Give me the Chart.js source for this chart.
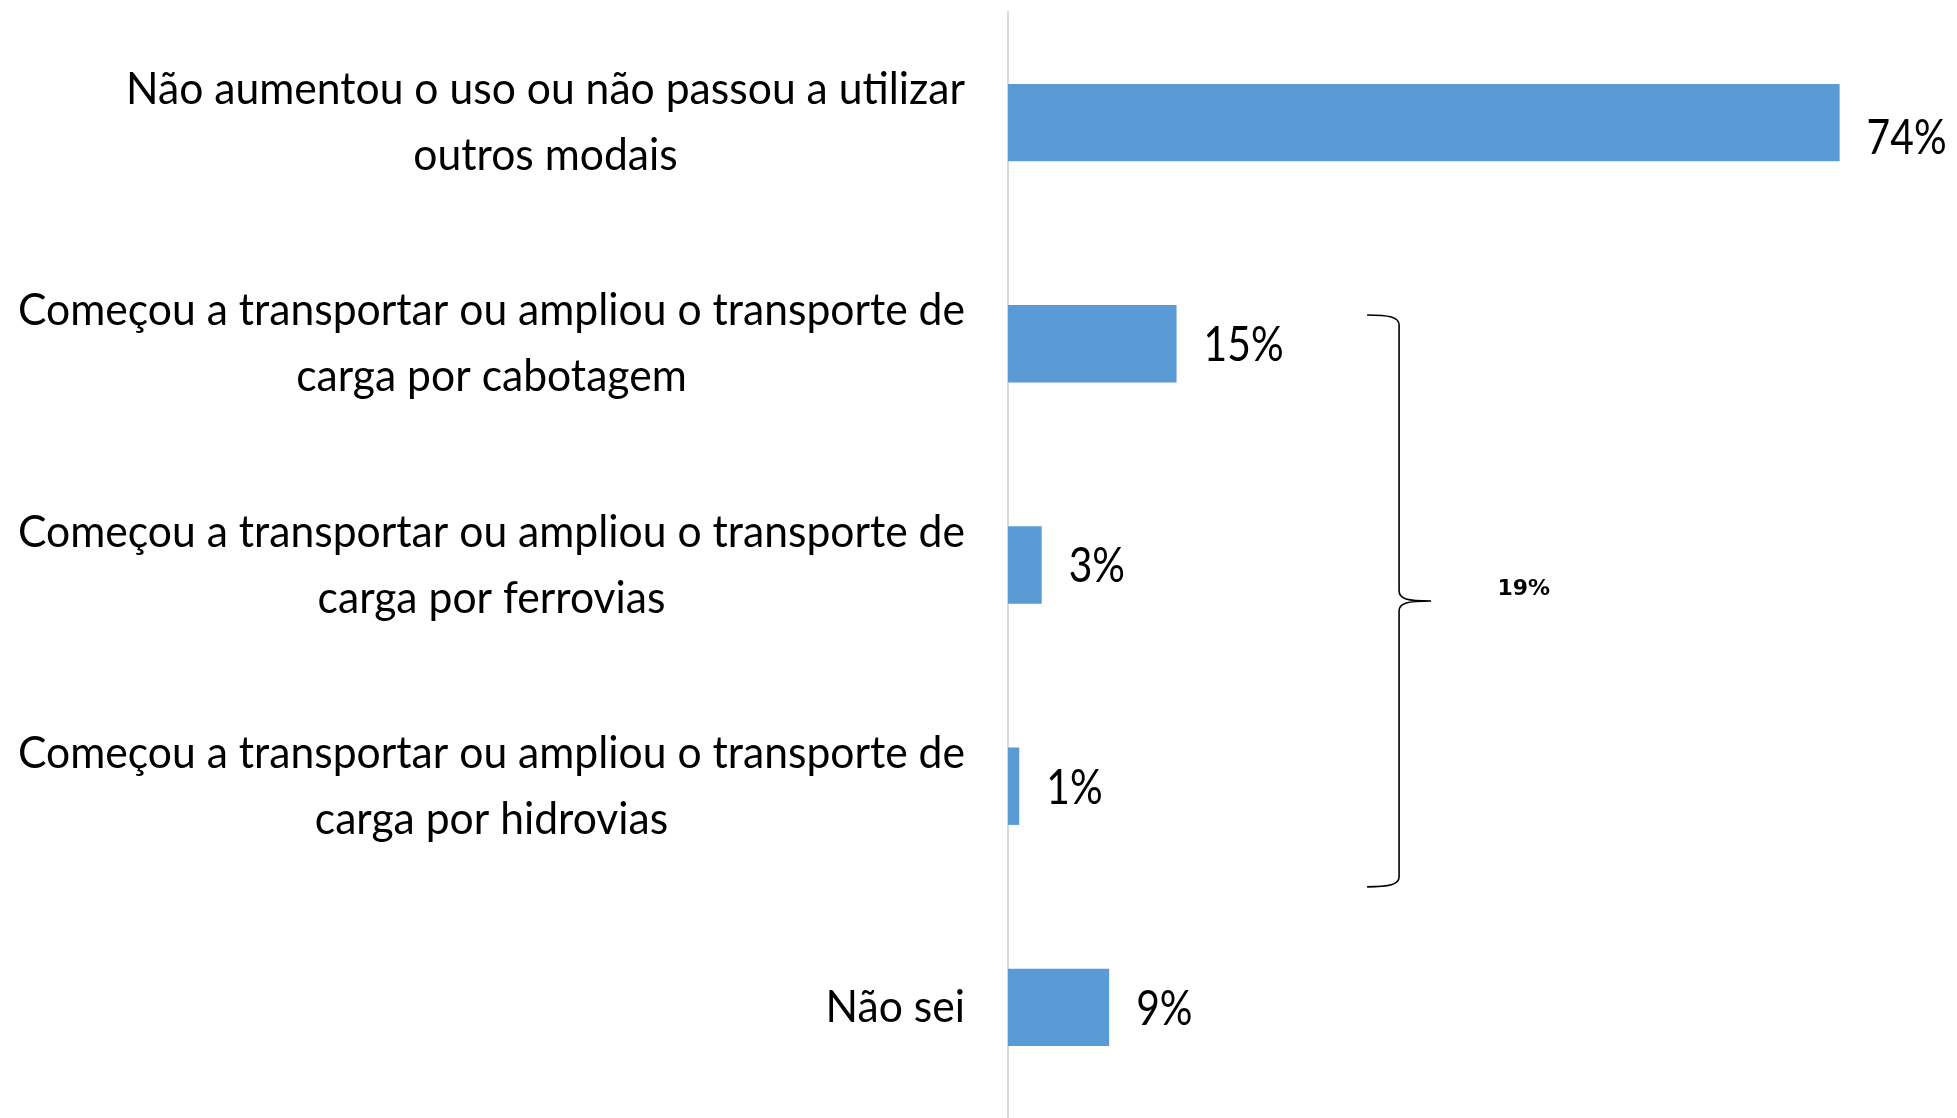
<!DOCTYPE html>
<html>
<head>
<meta charset="utf-8">
<script src="https://cdn.jsdelivr.net/npm/chart.js@4.4.1/dist/chart.umd.min.js"></script>
<style>
  html, body { margin: 0; padding: 0; background: #fff; }
  #wrap { width: 1957px; height: 1118px; position: relative; }
</style>
</head>
<body>
<div id="wrap"><canvas id="barChart"></canvas></div>
<script>
// categories (one array of lines per bar)
const categories = [
    ['Não aumentou o uso ou não passou a utilizar', 'outros modais'],
    ['Começou a transportar ou ampliou o transporte de', 'carga por cabotagem'],
    ['Começou a transportar ou ampliou o transporte de', 'carga por ferrovias'],
    ['Começou a transportar ou ampliou o transporte de', 'carga por hidrovias'],
    ['Não sei']
];
const values = [74, 15, 3, 1, 9];
const valueLabels = ['74%', '15%', '3%', '1%', '9%'];

// bracket around the three "Começou..." answers
const groupLabel = '19%';
const groupFrom = 0.87;   // category index where the brace starts
const groupTo = 3.455;    // category index where the brace ends
const braceX = 34.8;      // value on the x scale for the brace spine

const font = 'Lato, "Open Sans", sans-serif';

// draw text squeezed horizontally (the original uses a narrow font)
function narrowText(ctx, txt, x, y, k) {
    ctx.save();
    ctx.translate(x, y);
    ctx.scale(k, 1);
    ctx.fillText(txt, 0, 0);
    ctx.restore();
}

const labelsPlugin = {
    id: 'labelsPlugin',
    afterDatasetsDraw(chart) {
        const ctx = chart.ctx;
        const xs = chart.scales.x;
        const ys = chart.scales.y;
        const area = chart.chartArea;
        ctx.save();
        ctx.fillStyle = '#000';
        ctx.textBaseline = 'middle';

        // category labels: block right-aligned, lines centred inside block
        ctx.font = '45px ' + font;
        const widest = Math.max(...categories.flat().map(l => ctx.measureText(l).width));
        const k = 947 / widest;
        const right = area.left - 43;
        ctx.textAlign = 'center';
        categories.forEach((lines, i) => {
            const y = ys.getPixelForValue(i);
            const w = Math.max(...lines.map(l => ctx.measureText(l).width)) * k;
            lines.forEach((l, j) => {
                narrowText(ctx, l, right - w / 2, y + (j - (lines.length - 1) / 2) * 66, k);
            });
        });

        // value labels
        ctx.font = '48px ' + font;
        const kv = 80 / ctx.measureText('15%').width;
        ctx.textAlign = 'left';
        values.forEach((v, i) => {
            const dy = i === 0 ? 16 : 2;
            narrowText(ctx, valueLabels[i], xs.getPixelForValue(v) + 27, ys.getPixelForValue(i) + dy, kv);
        });

        // brace
        const top = ys.getPixelForValue(groupFrom);
        const bot = ys.getPixelForValue(groupTo);
        const mid = (top + bot) / 2;
        const sx = xs.getPixelForValue(braceX);
        const arm = 32;
        ctx.strokeStyle = '#000';
        ctx.lineWidth = 1.6;
        ctx.beginPath();
        ctx.moveTo(sx - arm, top);
        ctx.bezierCurveTo(sx - 10, top, sx, top + 2, sx, top + 10);
        ctx.lineTo(sx, mid - 10);
        ctx.bezierCurveTo(sx, mid - 2, sx + 8, mid, sx + arm, mid);
        ctx.moveTo(sx + arm, mid);
        ctx.bezierCurveTo(sx + 8, mid, sx, mid + 2, sx, mid + 10);
        ctx.lineTo(sx, bot - 10);
        ctx.bezierCurveTo(sx, bot - 2, sx - 10, bot, sx - arm, bot);
        ctx.stroke();

        ctx.font = 'bold 22px "DejaVu Sans", sans-serif';
        ctx.textAlign = 'center';
        ctx.fillText(groupLabel, xs.getPixelForValue(45.9), mid - 12);
        ctx.restore();
    }
};

new Chart(document.getElementById('barChart'), {
    type: 'bar',
    data: {
        labels: categories,
        datasets: [{
            data: values,
            backgroundColor: '#5B9BD5',
            borderWidth: 0,
            categoryPercentage: 1,
            barPercentage: 0.35
        }]
    },
    options: {
        indexAxis: 'y',
        responsive: true,
        maintainAspectRatio: false,
        animation: false,
        layout: { padding: { left: 1008, right: 5, top: 12, bottom: 0 } },
        plugins: { legend: { display: false }, tooltip: { enabled: false } },
        scales: {
            x: { display: false, min: 0, max: 84 },
            y: {
                grid: { display: false, drawTicks: false, tickLength: 0 },
                ticks: { display: false },
                border: { display: true, color: '#d9d9d9', width: 2 }
            }
        }
    },
    plugins: [labelsPlugin]
});
</script>
</body>
</html>
